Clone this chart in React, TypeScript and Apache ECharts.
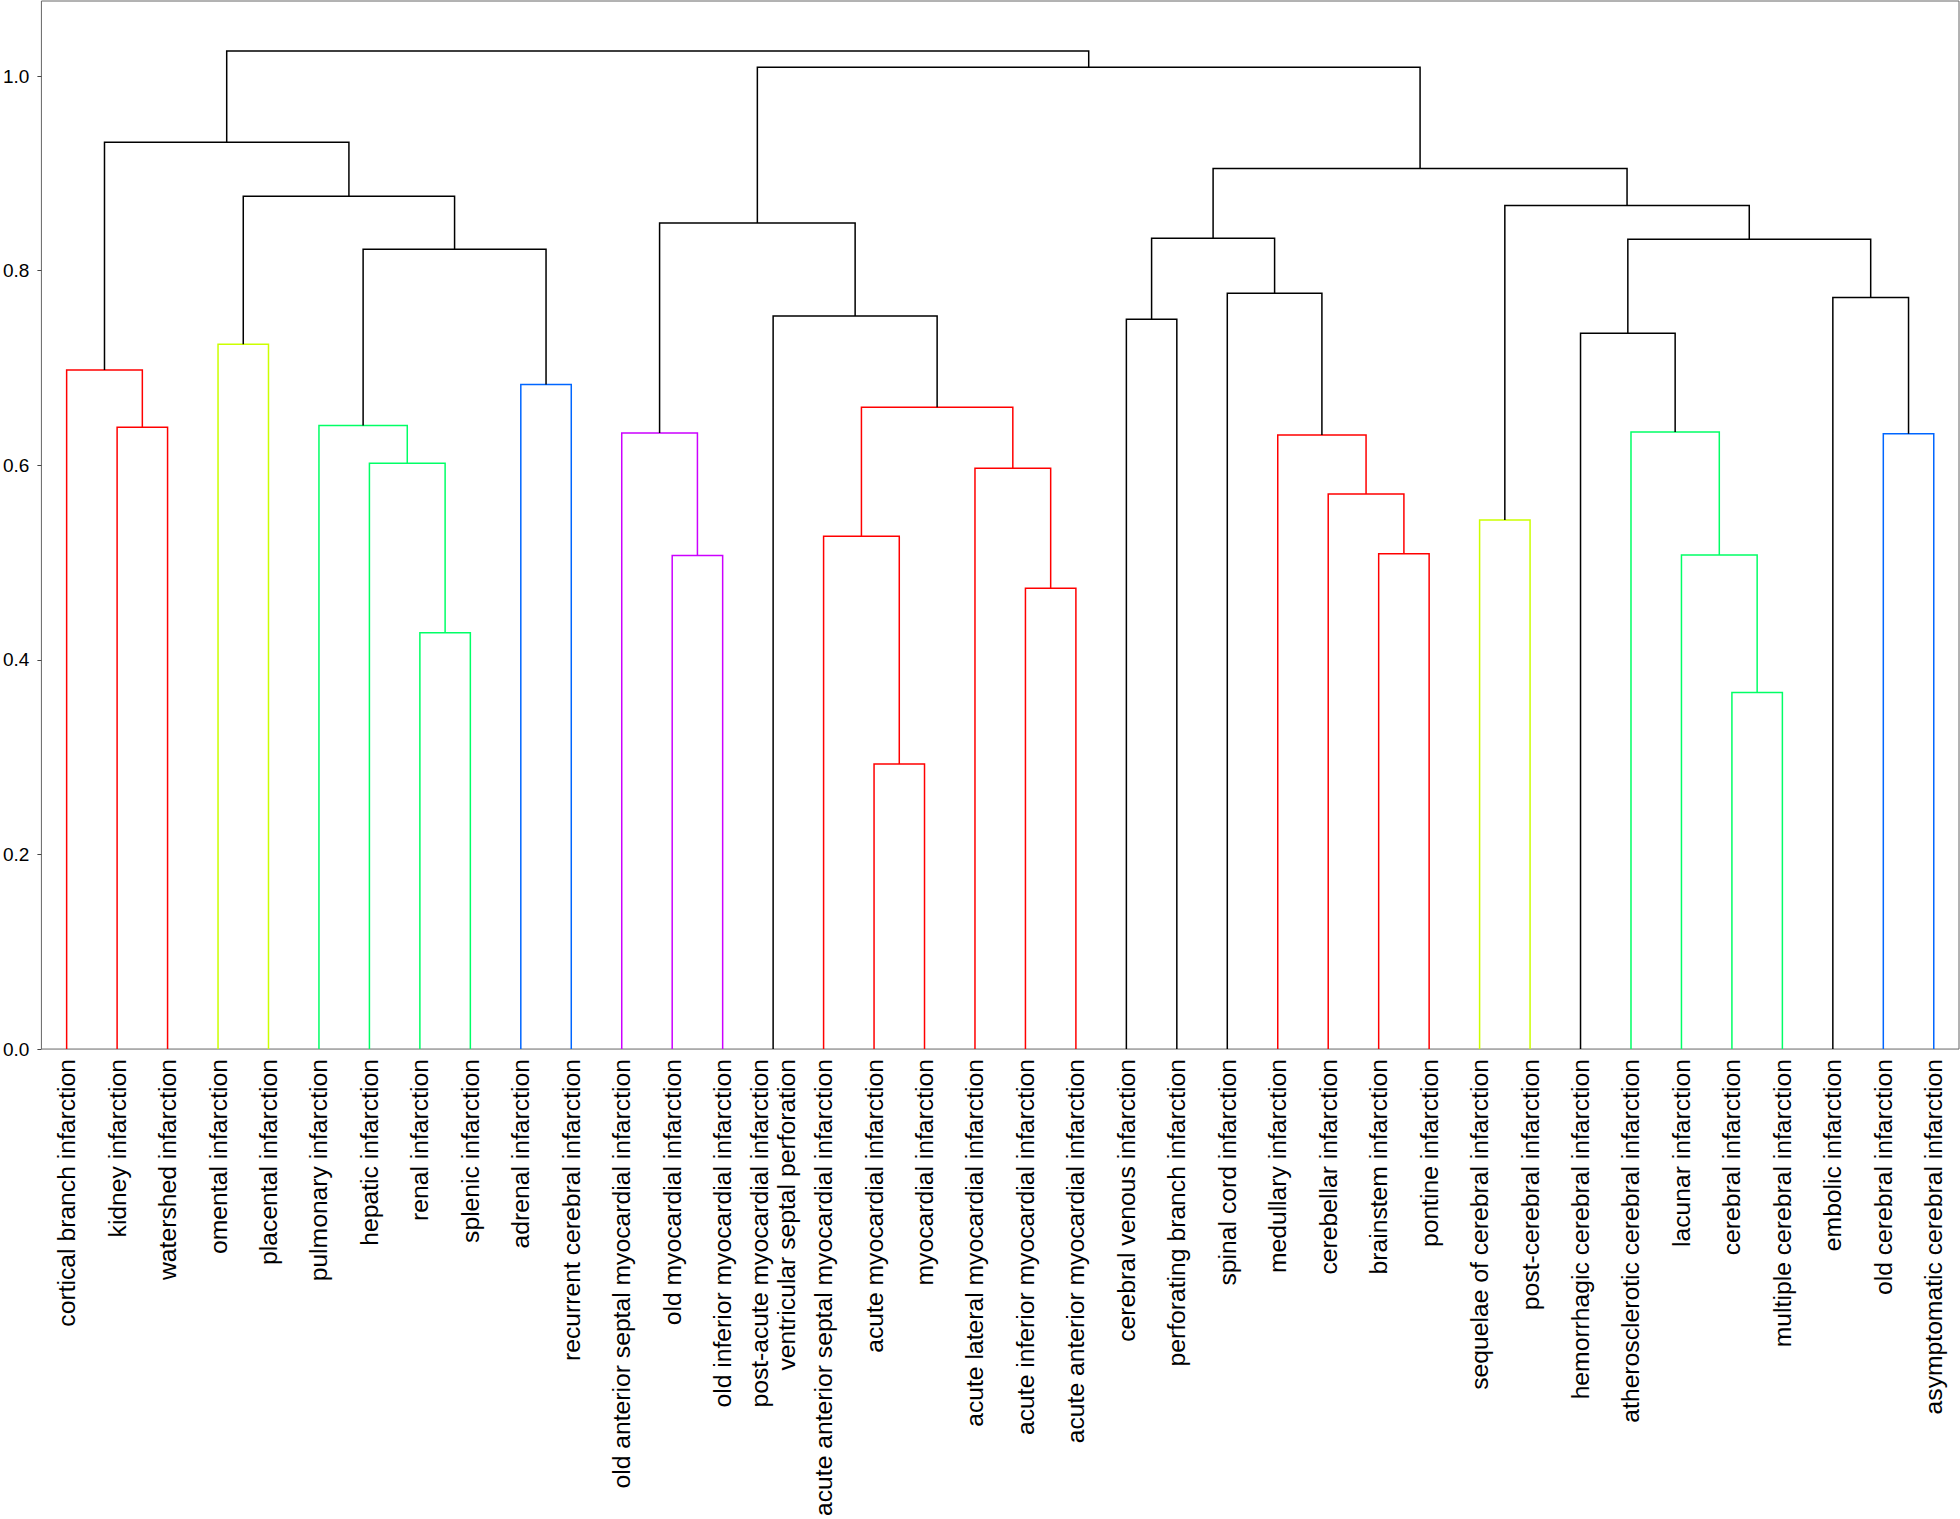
import React, { useEffect, useRef } from "react";
import * as echarts from "echarts";

// Leaves in dendrogram order
const leafLabels: string[] = [
  "cortical branch infarction",
  "kidney infarction",
  "watershed infarction",
  "omental infarction",
  "placental infarction",
  "pulmonary infarction",
  "hepatic infarction",
  "renal infarction",
  "splenic infarction",
  "adrenal infarction",
  "recurrent cerebral infarction",
  "old anterior septal myocardial infarction",
  "old myocardial infarction",
  "old inferior myocardial infarction",
  "post-acute myocardial infarction\nventricular septal perforation",
  "acute anterior septal myocardial infarction",
  "acute myocardial infarction",
  "myocardial infarction",
  "acute lateral myocardial infarction",
  "acute inferior myocardial infarction",
  "acute anterior myocardial infarction",
  "cerebral venous infarction",
  "perforating branch infarction",
  "spinal cord infarction",
  "medullary infarction",
  "cerebellar infarction",
  "brainstem infarction",
  "pontine infarction",
  "sequelae of cerebral infarction",
  "post-cerebral infarction",
  "hemorrhagic cerebral infarction",
  "atherosclerotic cerebral infarction",
  "lacunar infarction",
  "cerebral infarction",
  "multiple cerebral infarction",
  "embolic infarction",
  "old cerebral infarction",
  "asymptomatic cerebral infarction",
];

// Linkage: node ids 0..37 are leaves, 38+k is the cluster made by merge k
const mergeLeft: number[] = [1, 0, 3, 7, 6, 5, 9, 43, 40, 39, 12, 11, 16, 15, 19, 18, 51, 14, 49, 21, 26, 25, 24, 23, 57, 28, 33, 32, 31, 30, 36, 35, 67, 63, 62, 56, 47];
const mergeRight: number[] = [2, 38, 4, 8, 41, 42, 10, 44, 45, 46, 13, 48, 17, 50, 20, 52, 53, 54, 55, 22, 27, 58, 59, 60, 61, 29, 34, 64, 65, 66, 37, 68, 69, 70, 71, 72, 73];
const mergeHeights: number[] = [
  0.639, 0.698, 0.7245, 0.428, 0.602, 0.641, 0.683, 0.822, 0.8765, 0.932,
  0.5074, 0.6332, 0.2931, 0.527, 0.4735, 0.597, 0.6596, 0.7534, 0.849, 0.7502,
  0.509, 0.5705, 0.6312, 0.7769, 0.8334, 0.5437, 0.3664, 0.5078, 0.6341, 0.7357,
  0.6325, 0.7725, 0.8322, 0.8669, 0.905, 1.0092, 1.0259,
];
// cluster group of each link (0 = above colour threshold)
const mergeGroups: number[] = [1, 1, 2, 3, 3, 3, 4, 0, 0, 0, 5, 5, 1, 1, 1, 1, 1, 0, 0, 0, 1, 1, 1, 0, 0, 2, 3, 3, 3, 0, 4, 0, 0, 0, 0, 0, 0];

const yTickValues: number[] = [0, 0.2, 0.4, 0.6, 0.8, 1.0];

const palette = ["#000000", "#ff0000", "#ccff00", "#00ff66", "#0066ff", "#cc00ff"];

function buildLinks() {
  const n = leafLabels.length;
  const nodeX: number[] = [];
  const nodeH: number[] = [];
  for (let i = 0; i < n; i++) {
    nodeX.push(10 * i + 5);
    nodeH.push(0);
  }
  const links: number[][] = [];
  for (let k = 0; k < mergeHeights.length; k++) {
    const l = mergeLeft[k];
    const r = mergeRight[k];
    const h = mergeHeights[k];
    links.push([nodeX[l], nodeX[r], nodeH[l], nodeH[r], h, mergeGroups[k]]);
    nodeX.push((nodeX[l] + nodeX[r]) / 2);
    nodeH.push(h);
  }
  return links;
}

export default function App() {
  const ref = useRef<HTMLDivElement>(null);
  useEffect(() => {
    if (!ref.current) return;
    const chart = echarts.init(ref.current, undefined, { renderer: "svg" });
    const links = buildLinks();
    const n = leafLabels.length;
    const yMax = Math.max(...mergeHeights) * 1.05;
    const font = "'Liberation Sans', Arial, Helvetica, sans-serif";
    chart.setOption({
      animation: false,
      backgroundColor: "#ffffff",
      grid: {
        left: 41,
        right: 1,
        top: 1,
        bottom: 467,
        show: true,
        borderColor: "#666666",
        borderWidth: 1,
        backgroundColor: "transparent",
      },
      xAxis: [
        {
          type: "category",
          data: leafLabels,
          boundaryGap: true,
          axisLine: { show: false },
          axisTick: { show: false },
          splitLine: { show: false },
          axisLabel: {
            interval: 0,
            rotate: 90,
            margin: 10,
            fontSize: 24.7,
            lineHeight: 27,
            color: "#000000",
            fontFamily: font,
          },
        },
        {
          type: "value",
          min: 0,
          max: 10 * n,
          show: false,
          splitLine: { show: false },
        },
      ],
      yAxis: {
        type: "value",
        min: 0,
        max: yMax,
        axisLine: { show: false },
        splitLine: { show: false },
        axisTick: {
          show: true,
          length: 4,
          lineStyle: { color: "#444444", width: 1 },
          customValues: yTickValues,
        },
        axisLabel: {
          customValues: yTickValues,
          margin: 12,
          fontSize: 19,
          color: "#000000",
          fontFamily: font,
          formatter: (v: number) => v.toFixed(1),
        },
      },
      series: [
        {
          type: "custom",
          xAxisIndex: 1,
          yAxisIndex: 0,
          encode: { x: [0, 1], y: [2, 3, 4] },
          data: links,
          renderItem: (params: any, api: any) => {
            const xl = api.value(0);
            const xr = api.value(1);
            const yl = api.value(2);
            const yr = api.value(3);
            const h = api.value(4);
            const g = api.value(5);
            const pts = [
              api.coord([xl, yl]),
              api.coord([xl, h]),
              api.coord([xr, h]),
              api.coord([xr, yr]),
            ];
            return {
              type: "polyline",
              shape: { points: pts },
              style: { stroke: palette[g], lineWidth: 1.5, fill: null },
            };
          },
        },
      ],
    });
    return () => chart.dispose();
  }, []);
  return (
    <div
      ref={ref}
      style={{ position: "absolute", left: 0, top: 0, width: 1960, height: 1519, background: "#fff" }}
    />
  );
}
